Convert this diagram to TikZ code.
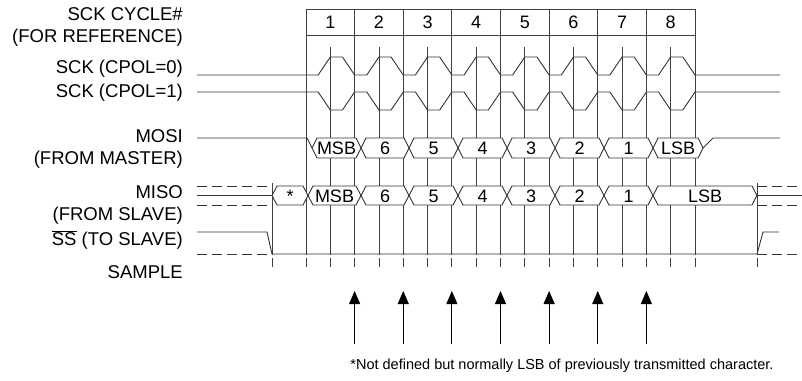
\documentclass[tikz,border=0pt]{standalone}
\usepackage{fontspec}
\setmainfont{Liberation Sans}
\usetikzlibrary{arrows.meta}
\tikzset{
  sig/.style={line width=0.9pt,black!80},
  grid/.style={line width=0.8pt,black!75},
  undef/.style={sig,dash pattern=on 10pt off 5pt},
  hexcell/.style={sig,fill=white},
  lbl/.style={anchor=base east,inner sep=0pt,font=\fontsize{18.5}{18.5}\selectfont},
  bit/.style={anchor=base,inner sep=0pt,font=\fontsize{18}{18}\selectfont},
  smp/.style={-{Triangle[length=13pt,width=11pt]},line width=0.9pt},
}

\begin{document}
\begin{tikzpicture}[x=1pt,y=-1pt]
 \useasboundingbox (0,0) rectangle (802,380);
 % signal names
 \node[lbl] (lcyc) at (183,20.5) {SCK CYCLE\#};
 \node[lbl] (lref) at (183,42.5) {(FOR REFERENCE)};
 \node[lbl] (lcpol0) at (183,73.5) {SCK (CPOL=0)};
 \node[lbl] (lcpol1) at (183,97.5) {SCK (CPOL=1)};
 \node[lbl] (lmosi) at (183,142.5) {MOSI};
 \node[lbl] (lmaster) at (183,164.5) {(FROM MASTER)};
 \node[lbl] (lmiso) at (183,198.5) {MISO};
 \node[lbl] (lslave) at (183,220.5) {(FROM SLAVE)};
 \node[lbl] (lss) at (183,245.5) {$\overline{\mbox{SS}}$ (TO SLAVE)};
 \node[lbl] (lsample) at (183,278.5) {SAMPLE};
 % cycle grid
 \draw[grid] (306,9) rectangle (695,35);
 \foreach \i in {0,...,8} {
   \pgfmathsetmacro\xb{306+48.625*\i}
   \draw[grid] (\xb,9) -- (\xb,255);
   \draw[grid] (\xb,258) -- (\xb,267);
 }
 \foreach \i in {1,...,8} {
   \pgfmathsetmacro\xc{306+48.625*(\i-0.5)}
   \draw[grid] (\xc,47) -- (\xc,255);
   \draw[grid] (\xc,258) -- (\xc,267);
   \node[bit] (cyc\i) at (\xc,28.5) {\i};
 }
 \draw[grid] (272,183) -- (272,255);
 \draw[grid] (272,258) -- (272,267);
 \draw[grid] (757,183) -- (757,255);
 \draw[grid] (757,258) -- (757,267);
 % clocks
 \draw[sig] (197,75) -- (306,75)
   \foreach \i [evaluate=\i as \xa using 306+48.625*\i] in {0,...,7} {
     -- (\xa+12.16,75) -- (\xa+24.31,57) -- (\xa+36.47,57) -- (\xa+48.625,75)
   } -- (780,75);
 \draw[sig] (197,92) -- (306,92)
   \foreach \i [evaluate=\i as \xa using 306+48.625*\i] in {0,...,7} {
     -- (\xa+12.16,92) -- (\xa+24.31,110) -- (\xa+36.47,110) -- (\xa+48.625,92)
   } -- (780,92);
 % MOSI
 \draw[sig] (197,138) -- (307,138) -- (312,148);
 \foreach \xa/\xb/\t [count=\k] in {312/361/MSB,361/409/6,409/458/5,458/507/4,507/555/3,555/604/2,604/653/1,653/703/LSB} {
   \draw[hexcell] (\xa,148) -- (\xa+5,138) -- (\xb-5,138) -- (\xb,148) -- (\xb-5,158) -- (\xa+5,158) -- cycle;
   \node[bit] (mosi\k) at ({(\xa+\xb)/2},154.5) {\t};
 }
 \draw[sig] (703,148) -- (713,138) -- (780,138);
 % MISO
 \draw[undef] (197,186) -- (272,186);
 \draw[undef] (197,205) -- (272,205);
 \draw[sig] (197,195.5) -- (272,195.5);
 \foreach \xa/\xb/\t [count=\k] in {272/308/*,308/361/MSB,361/409/6,409/458/5,458/507/4,507/555/3,555/604/2,604/653/1,653/757/LSB} {
   \draw[hexcell] (\xa,195.5) -- (\xa+5,186) -- (\xb-5,186) -- (\xb,195.5) -- (\xb-5,205) -- (\xa+5,205) -- cycle;
   \node[bit] (miso\k) at ({(\xa+\xb)/2},202.5) {\t};
 }
 \draw[undef] (757,186) -- (802,186);
 \draw[undef] (757,205) -- (802,205);
 \draw[sig] (757,195.5) -- (802,195.5);
 % slave select
 \draw[sig] (197,232) -- (267,232) -- (272,254) -- (757,254) -- (763,232) -- (779,232);
 \draw[undef] (197,254) -- (272,254);
 \draw[undef] (757,254) -- (802,254);
 % sample points
 \foreach \i in {1,...,7} {
   \pgfmathsetmacro\xs{306+48.625*\i}
   \coordinate (s\i) at (\xs,344);
   \coordinate (t\i) at (\xs,291);
   \draw[smp] (s\i) -- (t\i);
 }
 \node[font=\fontsize{14.5}{14.5}\selectfont] (note) at (562,366) {*Not defined but normally LSB of previously transmitted character.};
\end{tikzpicture}
\end{document}
